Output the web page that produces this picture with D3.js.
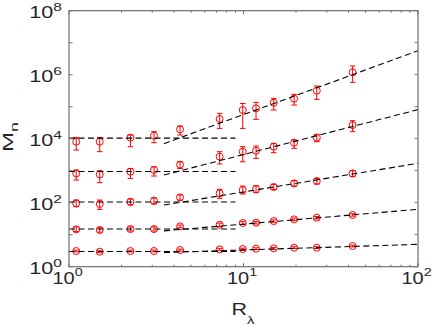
<!DOCTYPE html>
<html>
<head>
<meta charset="utf-8">
<script src="https://cdn.jsdelivr.net/npm/d3@7"></script>
<style>
  body { margin: 0; background: #fff; }
  svg { display: block; }
  text { font-family: "Liberation Sans", Arial, sans-serif; fill: #262626; }
</style>
</head>
<body>
<svg id="chart" width="432" height="327"></svg>
<script>
// R_lambda of each run (same for all moments)
var rLambda = [1.1, 1.5, 2.25, 3.07, 4.33, 7.3, 9.9, 11.8, 14.9, 19.5, 26.3, 42.2];

// moments, from highest order (top) to lowest
var mean = [
  [8060, 8060, 10800, 12400, 19600, 41200, 78700, 88700, 133000, 178000, 316000, 1180000],
  [826, 768, 930, 1050, 1540, 2740, 3930, 4220, 5620, 7500, 10800, 26700],
  [95.3, 90.9, 107, 115, 147, 196, 249, 267, 309, 402, 476, 826],
  [14.7, 14.0, 15.0, 15.0, 18.2, 20.5, 23.2, 23.7, 26.7, 30.1, 34.0, 41.2],
  [3.09, 2.94, 3.09, 3.09, 3.32, 3.48, 3.57, 3.65, 3.74, 3.92, 3.92, 4.42]
];
var lower = [
  [4420, 3930, 5620, 7500, 13000, 21000, 21000, 40200, 78700, 113000, 170000, 576000],
  [511, 422, 575, 681, 1170, 1620, 1900, 2430, 3650, 4990, 8060, 16600],
  [75, 61.9, 84.5, 90.9, 121, 137, 187, 205, 261, 331, 383, 649],
  [12.5, 12, 13, 13, 16.5, 18, 21, 21.5, 24.5, 27.5, 31, 38],
  [2.9, 2.75, 2.9, 2.9, 3.1, 3.25, 3.35, 3.45, 3.5, 3.7, 3.7, 4.15]
];
var upper = [
  [11000, 11000, 13000, 16600, 24900, 62000, 126000, 137000, 182000, 243000, 443000, 1870000],
  [1050, 1000, 1170, 1330, 1900, 3930, 5620, 5900, 7150, 9080, 13650, 36500],
  [121, 121, 130, 140, 174, 261, 331, 339, 374, 487, 575, 1000],
  [17.5, 16.5, 17.5, 17.5, 20, 23, 25.5, 26, 29, 33, 37, 45],
  [3.3, 3.15, 3.3, 3.3, 3.55, 3.75, 3.8, 3.9, 4.0, 4.2, 4.2, 4.7]
];

// gaussian levels (flat dashed lines) and power-law fits (sloped dashed lines)
var gaussLevel = [10395, 945, 105, 15, 3];
var gaussRange = [1, 9];
var fitRange = [3.5, 100];
var fitStart = [7000, 734, 84.7, 13.2, 2.77];
var fitEnd = [5.6e6, 81000, 1700, 62, 5.0];

var xTicks = [1, 10, 100];
var yTicks = [1, 1e2, 1e4, 1e6, 1e8];

var svg = d3.select("#chart");
var pLeft = 69, pRight = 418, pTop = 10.7, pBottom = 266.7;

var x = d3.scaleLog().domain([1, 100]).range([pLeft, pRight]);
var y = d3.scaleLog().domain([1, 1e8]).range([pBottom, pTop]);

svg.append("defs").append("clipPath").attr("id", "plotclip")
  .append("rect")
  .attr("x", pLeft).attr("y", pTop)
  .attr("width", pRight - pLeft).attr("height", pBottom - pTop);

var plot = svg.append("g").attr("clip-path", "url(#plotclip)");

// error bars + circles
var red = "#ff0000";
var capW = 2.8;
for (var i = 0; i < mean.length; i++) {
  var pts = rLambda.map(function(r, j) {
    return { r: r, m: mean[i][j], lo: lower[i][j], hi: upper[i][j] };
  });
  var g = plot.append("g").attr("class", "series" + i);
  g.selectAll(".bar").data(pts).enter().append("line")
    .attr("x1", function(d) { return x(d.r); })
    .attr("x2", function(d) { return x(d.r); })
    .attr("y1", function(d) { return y(d.lo); })
    .attr("y2", function(d) { return y(d.hi); })
    .attr("stroke", red).attr("stroke-width", 1);
  ["lo", "hi"].forEach(function(k) {
    g.selectAll(".cap" + k).data(pts).enter().append("line")
      .attr("x1", function(d) { return x(d.r) - capW; })
      .attr("x2", function(d) { return x(d.r) + capW; })
      .attr("y1", function(d) { return y(d[k]); })
      .attr("y2", function(d) { return y(d[k]); })
      .attr("stroke", red).attr("stroke-width", 1);
  });
  g.selectAll("circle").data(pts).enter().append("circle")
    .attr("cx", function(d) { return x(d.r); })
    .attr("cy", function(d) { return y(d.m); })
    .attr("r", 3.5)
    .attr("fill", "none")
    .attr("stroke", red).attr("stroke-width", 1);
}

// dashed lines on top
var line = d3.line()
  .x(function(d) { return x(d[0]); })
  .y(function(d) { return y(d[1]); });
for (var i = 0; i < gaussLevel.length; i++) {
  plot.append("path")
    .attr("d", line([[gaussRange[0], gaussLevel[i]], [gaussRange[1], gaussLevel[i]]]))
    .attr("fill", "none").attr("stroke", "#000")
    .attr("stroke-width", 1.1).attr("stroke-dasharray", "6,3.5");
  plot.append("path")
    .attr("d", line([[fitRange[0], fitStart[i]], [fitRange[1], fitEnd[i]]]))
    .attr("fill", "none").attr("stroke", "#000")
    .attr("stroke-width", 1.1).attr("stroke-dasharray", "6,3.5");
}

// axes box and ticks (inward, all four sides)
var axisColor = "#6e6e6e";
var ax = svg.append("g");
ax.append("rect")
  .attr("x", pLeft).attr("y", pTop)
  .attr("width", pRight - pLeft).attr("height", pBottom - pTop)
  .attr("fill", "none").attr("stroke", axisColor).attr("stroke-width", 1.2);

var xMinor = [];
for (var dec = 1; dec < 100; dec *= 10) {
  for (var k = 2; k <= 9; k++) xMinor.push(k * dec);
}
var yMajor = d3.range(0, 9).map(function(e) { return Math.pow(10, e); });

function vTicks(vals, len) {
  vals.forEach(function(v) {
    ax.append("line").attr("x1", x(v)).attr("x2", x(v))
      .attr("y1", pBottom).attr("y2", pBottom - len)
      .attr("stroke", axisColor);
    ax.append("line").attr("x1", x(v)).attr("x2", x(v))
      .attr("y1", pTop).attr("y2", pTop + len)
      .attr("stroke", axisColor);
  });
}
vTicks(xMinor, 2);
vTicks(xTicks, 3.5);
yMajor.forEach(function(v) {
  ax.append("line").attr("x1", pLeft).attr("x2", pLeft + 3.5)
    .attr("y1", y(v)).attr("y2", y(v)).attr("stroke", axisColor);
  ax.append("line").attr("x1", pRight).attr("x2", pRight - 3.5)
    .attr("y1", y(v)).attr("y2", y(v)).attr("stroke", axisColor);
});

// tick labels "10^n"
function powLabel(px, py, v, anchor, raise, sx) {
  var t = svg.append("text")
    .attr("transform", "translate(" + px + "," + py + ") scale(" + sx + ",1)")
    .attr("text-anchor", anchor)
    .style("font-size", "16px");
  t.append("tspan").text("10");
  t.append("tspan").attr("dy", -raise).style("font-size", "11.5px")
    .text(Math.round(Math.log10(v)));
}
xTicks.forEach(function(v) { powLabel(x(v) - 1.5, 283.5, v, "middle", 7.5, 1.25); });
yTicks.forEach(function(v) { powLabel(62, y(v) + 7, v, "end", 6.5, 1.35); });

// axis titles
var xl = svg.append("text")
  .attr("transform", "translate(231.5,315) scale(1.35,1)")
  .style("font-size", "16px");
xl.append("tspan").text("R");
xl.append("tspan").attr("dy", 9).style("font-size", "11px").text("λ");

var yl = svg.append("text")
  .attr("transform", "translate(12.5,152) rotate(-90) scale(1.6,1)")
  .style("font-size", "15px");
yl.append("tspan").text("M");
yl.append("tspan").attr("dy", 5).style("font-size", "11px").text("n");
</script>
</body>
</html>
